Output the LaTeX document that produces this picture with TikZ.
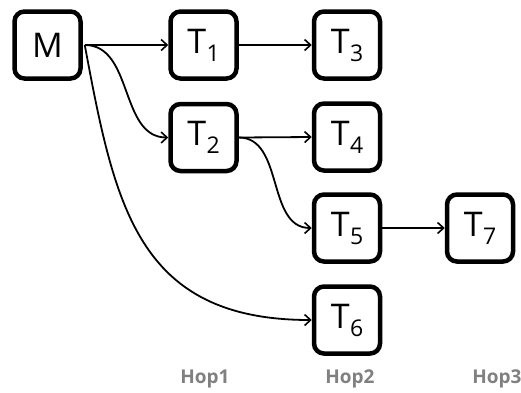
\documentclass[tikz,border=0pt]{standalone}
\usepackage{fontspec}
\setmainfont{Open Sans}
\usetikzlibrary{arrows.meta}

% task label with a lowered subscript
\newcommand{\tsk}[1]{T\kern0.5pt\raisebox{-8pt}{\fontsize{23}{23}\selectfont #1}}

\begin{document}
\begin{tikzpicture}[x=1pt,y=-1pt,
  box/.style={draw=black,line width=4.5pt,rounded corners=10pt,
    minimum width=66pt,minimum height=67pt,inner sep=0pt,
    font=\fontsize{34}{34}\selectfont},
  link/.style={line width=1.8pt,-{Straight Barb[length=6pt,width=11pt,line width=1.6pt]}},
  hop/.style={text=black!50,font=\bfseries\fontsize{19}{19}\selectfont}
]
\useasboundingbox (0,0) rectangle (521,392);

\node[box] (M)  at (47.5,45)  {M};
\node[box] (T1) at (203.5,45)  {\tsk{1}};
\node[box] (T2) at (203.5,137.5) {\tsk{2}};
\node[box] (T3) at (347,45)   {\tsk{3}};
\node[box] (T4) at (347,137)  {\tsk{4}};
\node[box] (T5) at (347,228)  {\tsk{5}};
\node[box] (T6) at (347,320)  {\tsk{6}};
\node[box] (T7) at (480,228)  {\tsk{7}};

\node[hop] (h1) at (205,379) {Hop1};
\node[hop] (h2) at (350,379) {Hop2};
\node[hop] (h3) at (497,379) {Hop3};

\coordinate (ms) at ([xshift=2pt]M.east);
\draw[link] (ms) -- (T1.west);
\draw[link] (ms) to[out=0,in=180] (T2.west);
\draw[link] (ms) .. controls ++(30,160) and ++(-175,0) .. (T6.west);
\draw[link] (T1.east) -- (T3.west);
\draw[link] (T2.east) -- (T4.west);
\draw[link] (T2.east) to[out=0,in=180] (T5.west);
\draw[link] (T5.east) -- (T7.west);
\end{tikzpicture}
\end{document}
